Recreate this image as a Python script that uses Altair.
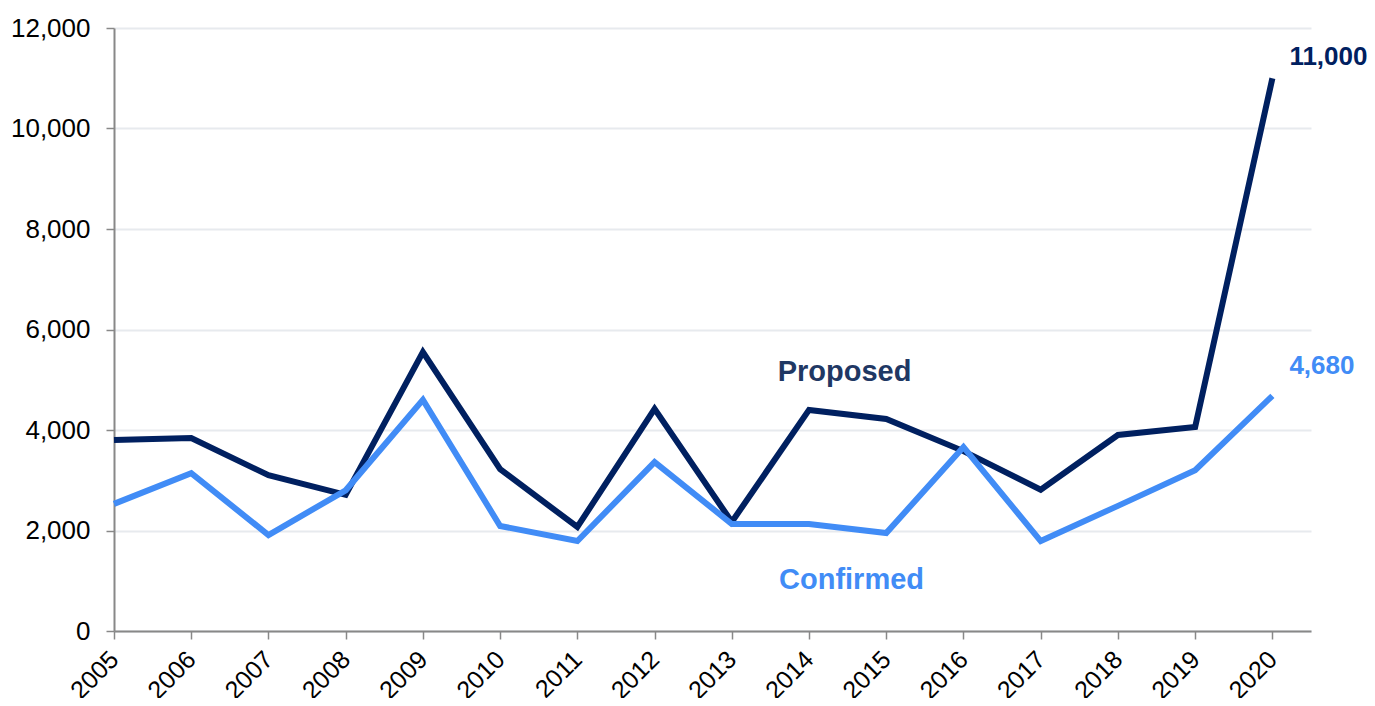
import altair as alt
import pandas as pd

years = list(range(2005, 2021))
proposed = [3800, 3840, 3100, 2710, 5550, 3220, 2070, 4420, 2170, 4400, 4220, 3580, 2810, 3900, 4060, 11000]
confirmed = [2530, 3140, 1910, 2800, 4600, 2090, 1790, 3360, 2130, 2130, 1950, 3660, 1790, 2490, 3200, 4680]
y_ticks = [0, 2000, 4000, 6000, 8000, 10000, 12000]

series_names = ["Proposed", "Confirmed"]
series_colors = ["#002060", "#418CF6"]
label_colors = ["#1F3864", "#418CF6"]

df = pd.DataFrame({
    "year": years * 2,
    "value": proposed + confirmed,
    "series": ["Proposed"] * len(years) + ["Confirmed"] * len(years),
})

FONT = "Liberation Sans"

x_scale = alt.Scale(domain=[2005, 2020.5], nice=False, zero=False)
y_scale = alt.Scale(domain=[0, 12000], nice=False)
color_scale = alt.Scale(domain=series_names, range=series_colors)

x_axis = alt.Axis(values=years, format="d", labelAngle=-45, labelAlign="right", labelBaseline="middle",
                  title=None, grid=False, tickSize=8, labelPadding=16,
                  labelFontSize=25, labelFont=FONT, labelColor="#000000",
                  domainColor="#888888", tickColor="#888888", domainWidth=2, tickWidth=1.5)
y_axis = alt.Axis(values=y_ticks, format=",d", title=None, grid=True,
                  gridColor="#E7EAEE", gridWidth=2, tickSize=8, labelPadding=16,
                  labelFontSize=26, labelFont=FONT, labelColor="#000000",
                  domainColor="#888888", tickColor="#888888", domainWidth=2, tickWidth=1.5)

X = alt.X("year:Q", scale=x_scale, axis=x_axis)
Y = alt.Y("value:Q", scale=y_scale, axis=y_axis)

lines = alt.Chart(df).mark_line(strokeWidth=6, strokeJoin="miter").encode(
    x=X, y=Y,
    color=alt.Color("series:N", scale=color_scale, legend=None),
    detail="series:N",
)

end_prop_df = pd.DataFrame({"year": [2020], "value": [proposed[-1]], "label": [f"{proposed[-1]:,}"]})
end_conf_df = pd.DataFrame({"year": [2020], "value": [confirmed[-1]], "label": [f"{confirmed[-1]:,}"]})

end_prop = alt.Chart(end_prop_df).mark_text(
    align="left", baseline="middle", dx=17, dy=-21, fontSize=26, fontWeight="bold", font=FONT,
    color=series_colors[0]).encode(x=X, y=Y, text="label:N")
end_conf = alt.Chart(end_conf_df).mark_text(
    align="left", baseline="middle", dx=17, dy=-30, fontSize=26, fontWeight="bold", font=FONT,
    color=series_colors[1]).encode(x=X, y=Y, text="label:N")

name_prop_df = pd.DataFrame({"year": [2014.46], "value": [5150], "label": ["Proposed"]})
name_conf_df = pd.DataFrame({"year": [2014.55], "value": [1015], "label": ["Confirmed"]})

name_prop = alt.Chart(name_prop_df).mark_text(
    align="center", baseline="middle", fontSize=29, fontWeight="bold", font=FONT,
    color=label_colors[0]).encode(x=X, y=Y, text="label:N")
name_conf = alt.Chart(name_conf_df).mark_text(
    align="center", baseline="middle", fontSize=29, fontWeight="bold", font=FONT,
    color=label_colors[1]).encode(x=X, y=Y, text="label:N")

chart = alt.layer(lines, end_prop, end_conf, name_prop, name_conf).properties(
    width=1197, height=603,
    autosize=alt.AutoSizeParams(type="none"),
    padding={"left": 106, "top": 20, "right": 56, "bottom": 67},
    background="white",
).configure_view(stroke=None)

chart.save("out.html", embed_options={"renderer": "svg", "actions": False})
